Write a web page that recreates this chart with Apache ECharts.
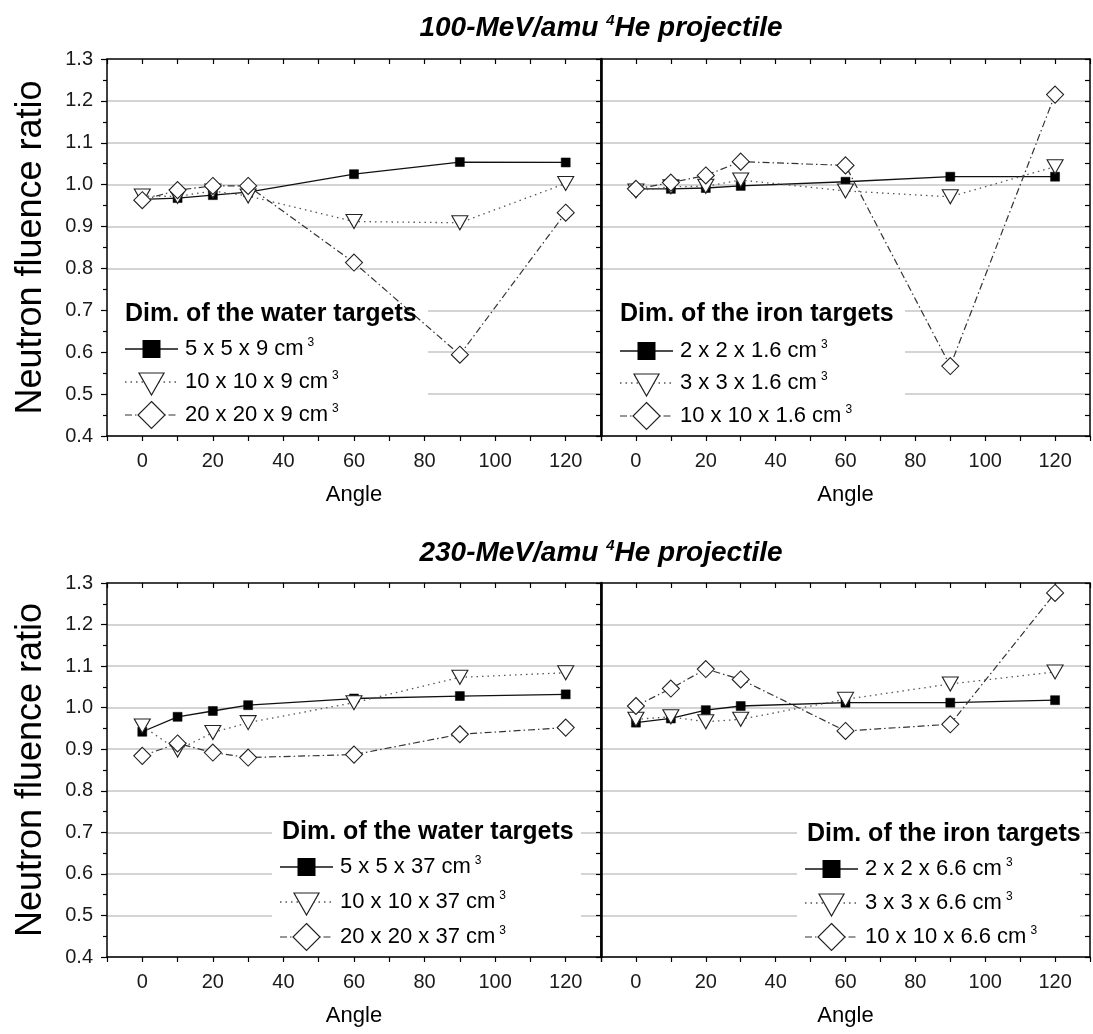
<!DOCTYPE html>
<html>
<head>
<meta charset="utf-8">
<title>Neutron fluence ratio vs angle</title>
<script src="https://cdn.jsdelivr.net/npm/echarts@6/dist/echarts.min.js"></script>
<style>
  html, body { margin: 0; padding: 0; background: #fff; }
  #chart { width: 1093px; height: 1034px; }
</style>
</head>
<body>
<div id="chart"></div>
<script>
// Measurement angles (degrees)
const angles = [0, 10, 20, 30, 60, 90, 120];
// Labelled x ticks
const xTickLabels = [0, 20, 40, 60, 80, 100, 120];

// 100-MeV/amu 4He, water targets
const water100Names = ['5 x 5 x 9 cm³', '10 x 10 x 9 cm³', '20 x 20 x 9 cm³'];
const water100Square = [0.965, 0.968, 0.975, 0.982, 1.025, 1.054, 1.053];
const water100Triangle = [0.973, 0.972, 0.985, 0.973, 0.912, 0.909, 1.003];
const water100Diamond = [0.963, 0.987, 0.997, 0.997, 0.814, 0.594, 0.933];

// 100-MeV/amu 4He, iron targets
const iron100Names = ['2 x 2 x 1.6 cm³', '3 x 3 x 1.6 cm³', '10 x 10 x 1.6 cm³'];
const iron100Square = [0.990, 0.990, 0.992, 0.997, 1.007, 1.019, 1.019];
const iron100Triangle = [0.985, 0.995, 0.996, 1.011, 0.985, 0.971, 1.043];
const iron100Diamond = [0.990, 1.005, 1.022, 1.055, 1.046, 0.567, 1.215];

// 230-MeV/amu 4He, water targets
const water230Names = ['5 x 5 x 37 cm³', '10 x 10 x 37 cm³', '20 x 20 x 37 cm³'];
const water230Square = [0.942, 0.978, 0.992, 1.006, 1.022, 1.028, 1.032];
const water230Triangle = [0.956, 0.898, 0.940, 0.964, 1.012, 1.073, 1.084];
const water230Diamond = [0.884, 0.914, 0.892, 0.880, 0.887, 0.936, 0.952];

// 230-MeV/amu 4He, iron targets
const iron230Names = ['2 x 2 x 6.6 cm³', '3 x 3 x 6.6 cm³', '10 x 10 x 6.6 cm³'];
const iron230Square = [0.964, 0.974, 0.994, 1.004, 1.012, 1.012, 1.018];
const iron230Triangle = [0.972, 0.978, 0.966, 0.972, 1.020, 1.057, 1.086];
const iron230Diamond = [1.004, 1.046, 1.093, 1.068, 0.944, 0.960, 1.276];

const blockTitles = ['100-MeV/amu ', '230-MeV/amu '];
const legendHeads = ['Dim. of the water targets', 'Dim. of the iron targets',
                     'Dim. of the water targets', 'Dim. of the iron targets'];

const FONT = '"Liberation Sans", Arial, Helvetica, sans-serif';

// Marker / line styles for the three target sizes in each panel
const kinds = [
  { symbol: 'rect', symbolSize: 9, symbolRotate: 0,
    itemStyle: { color: '#000', borderColor: '#000', borderWidth: 0.5 },
    lineStyle: { color: '#111', width: 1.3, type: 'solid' } },
  { symbol: 'triangle', symbolSize: [16, 14], symbolRotate: 180,
    itemStyle: { color: '#fff', borderColor: '#222', borderWidth: 1.1 },
    lineStyle: { color: '#555', width: 1.3, type: [1.5, 4] } },
  { symbol: 'diamond', symbolSize: [17, 17], symbolRotate: 0,
    itemStyle: { color: '#fff', borderColor: '#222', borderWidth: 1.1 },
    lineStyle: { color: '#333', width: 1.2, type: [7, 3, 1.5, 3] } }
];

// Panel layout: plotting rectangles and legend blocks
const panels = [
  { names: water100Names, values: [water100Square, water100Triangle, water100Diamond],
    grid: { left: 107, top: 59, width: 494, height: 377 },
    box: [108, 293, 320, 142], headX: 125, headY: 314, lineX: 125, rows: [349, 382, 415] },
  { names: iron100Names, values: [iron100Square, iron100Triangle, iron100Diamond],
    grid: { left: 601, top: 59, width: 494, height: 377 },
    box: [603, 295, 302, 140], headX: 620, headY: 314, lineX: 620, rows: [351, 383, 416] },
  { names: water230Names, values: [water230Square, water230Triangle, water230Diamond],
    grid: { left: 107, top: 583, width: 494, height: 374 },
    box: [272, 812, 309, 144], headX: 282, headY: 832, lineX: 280, rows: [867, 902, 937] },
  { names: iron230Names, values: [iron230Square, iron230Triangle, iron230Diamond],
    grid: { left: 601, top: 583, width: 494, height: 374 },
    box: [797, 815, 283, 141], headX: 807, headY: 834, lineX: 805, rows: [869, 903, 937] }
];

const option = {
  animation: false,
  backgroundColor: '#fff',
  grid: [], xAxis: [], yAxis: [], series: [],
  graphic: { elements: [] }
};

panels.forEach((p, g) => {
  const isLeft = g % 2 === 0;
  option.grid.push(p.grid);

  // bottom x axis (labelled)
  option.xAxis.push({
    type: 'value', gridIndex: g, position: 'bottom',
    min: -10, max: 130, interval: 10,
    axisLine: { onZero: false, lineStyle: { color: '#000', width: 1.5 } },
    axisTick: { length: 5, lineStyle: { color: '#000', width: 1.2 } },
    axisLabel: {
      margin: 15, fontSize: 20, color: '#1a1a1a', fontFamily: FONT,
      formatter: v => (xTickLabels.indexOf(Math.round(v)) >= 0 ? String(Math.round(v)) : '')
    },
    splitLine: { show: false },
    name: 'Angle', nameLocation: 'middle', nameGap: 48,
    nameTextStyle: { fontSize: 22, color: '#000', fontFamily: FONT }
  });
  // top frame axis
  option.xAxis.push({
    type: 'value', gridIndex: g, position: 'top',
    min: -10, max: 130, interval: 10,
    axisLine: { onZero: false, lineStyle: { color: '#111', width: 1.5 } },
    axisTick: { inside: true, length: 5, lineStyle: { color: '#000', width: 1.2 } },
    axisLabel: { show: false },
    splitLine: { show: false }
  });

  // left y axis
  option.yAxis.push({
    type: 'value', gridIndex: g, position: 'left',
    min: 0.4, max: 1.3, interval: 0.1,
    axisLine: { show: true, onZero: false, lineStyle: { color: '#000', width: isLeft ? 1.5 : 2.6 } },
    axisTick: { show: isLeft, length: 6, lineStyle: { color: '#000', width: 1.2 } },
    minorTick: { show: isLeft, splitNumber: 2, length: 4, lineStyle: { color: '#000', width: 1.2 } },
    axisLabel: {
      show: isLeft, margin: 14, fontSize: 20, color: '#1a1a1a', fontFamily: FONT,
      formatter: v => v.toFixed(1)
    },
    splitLine: { show: true, lineStyle: { color: '#c6c6c6', width: 1.6 } },
    name: isLeft ? 'Neutron fluence ratio' : '',
    nameLocation: 'middle', nameGap: 58,
    nameTextStyle: { fontSize: 36, color: '#000', fontFamily: FONT }
  });
  // right frame axis
  option.yAxis.push({
    type: 'value', gridIndex: g, position: 'right',
    min: 0.4, max: 1.3, interval: 0.1,
    axisLine: { show: true, onZero: false, lineStyle: { color: '#000', width: 1.5 } },
    axisTick: { show: true, inside: true, length: 5, lineStyle: { color: '#000', width: 1.2 } },
    minorTick: { show: true, splitNumber: 2, length: 5, lineStyle: { color: '#000', width: 1.2 } },
    axisLabel: { show: false },
    splitLine: { show: false }
  });

  // data series
  kinds.forEach((k, i) => {
    option.series.push({
      type: 'line', name: p.names[i],
      xAxisIndex: 2 * g, yAxisIndex: 2 * g,
      data: angles.map((a, j) => [a, p.values[i][j]]),
      symbol: k.symbol, symbolSize: k.symbolSize, symbolRotate: k.symbolRotate,
      showSymbol: true, showAllSymbol: true,
      itemStyle: k.itemStyle, lineStyle: k.lineStyle,
      emphasis: { disabled: true }
    });
  });

  // legend block: white panel, heading and three keyed entries
  const els = option.graphic.elements;
  els.push({
    type: 'rect', z: 3, silent: true,
    shape: { x: p.box[0], y: p.box[1], width: p.box[2], height: p.box[3] },
    style: { fill: '#fff' }
  });
  els.push({
    type: 'text', z: 4, x: p.headX, y: p.headY,
    style: { text: legendHeads[g], font: 'bold 25px ' + FONT, fill: '#000', verticalAlign: 'middle' }
  });
  kinds.forEach((k, i) => {
    const cy = p.rows[i];
    const cx = p.lineX + 26.5;
    const dash = Array.isArray(k.lineStyle.type) ? k.lineStyle.type : null;
    els.push({
      type: 'line', z: 4,
      shape: { x1: p.lineX, y1: cy, x2: p.lineX + 53, y2: cy },
      style: { stroke: k.lineStyle.color, lineWidth: k.lineStyle.width, lineDash: dash }
    });
    if (k.symbol === 'rect') {
      els.push({ type: 'rect', z: 4, shape: { x: cx - 9, y: cy - 9, width: 18, height: 18 },
                 style: { fill: '#000' } });
    } else if (k.symbol === 'triangle') {
      els.push({ type: 'polygon', z: 4,
                 shape: { points: [[cx - 12.5, cy - 9], [cx + 12.5, cy - 9], [cx, cy + 13]] },
                 style: { fill: '#fff', stroke: '#222', lineWidth: 1.2 } });
    } else {
      els.push({ type: 'polygon', z: 4,
                 shape: { points: [[cx, cy - 13.5], [cx + 13.5, cy], [cx, cy + 13.5], [cx - 13.5, cy]] },
                 style: { fill: '#fff', stroke: '#222', lineWidth: 1.2 } });
    }
    const base = p.names[i].replace('³', '');
    els.push({
      type: 'text', z: 4, x: p.lineX + 60, y: cy,
      style: {
        text: '{t|' + base + '}{s|3}',
        verticalAlign: 'middle',
        rich: {
          t: { fontSize: 22, fontFamily: FONT, fill: '#000', lineHeight: 24 },
          s: { fontSize: 12, fontFamily: FONT, fill: '#000', verticalAlign: 'top', padding: [0, 0, 0, 4] }
        }
      }
    });
  });
});

// block headings above each row of panels
[28, 553].forEach((y, b) => {
  option.graphic.elements.push({
    type: 'text', z: 4, x: 601, y: y,
    style: {
      text: '{a|' + blockTitles[b] + '}{s|4}{a|He projectile}',
      align: 'center', verticalAlign: 'middle',
      rich: {
        a: { fontSize: 28, fontWeight: 'bold', fontStyle: 'italic', fontFamily: FONT, fill: '#000', lineHeight: 30 },
        s: { fontSize: 15, fontWeight: 'bold', fontStyle: 'italic', fontFamily: FONT, fill: '#000', verticalAlign: 'top' }
      }
    }
  });
});

const chart = echarts.init(document.getElementById('chart'), null, { renderer: 'canvas' });
chart.setOption(option);
</script>
</body>
</html>
